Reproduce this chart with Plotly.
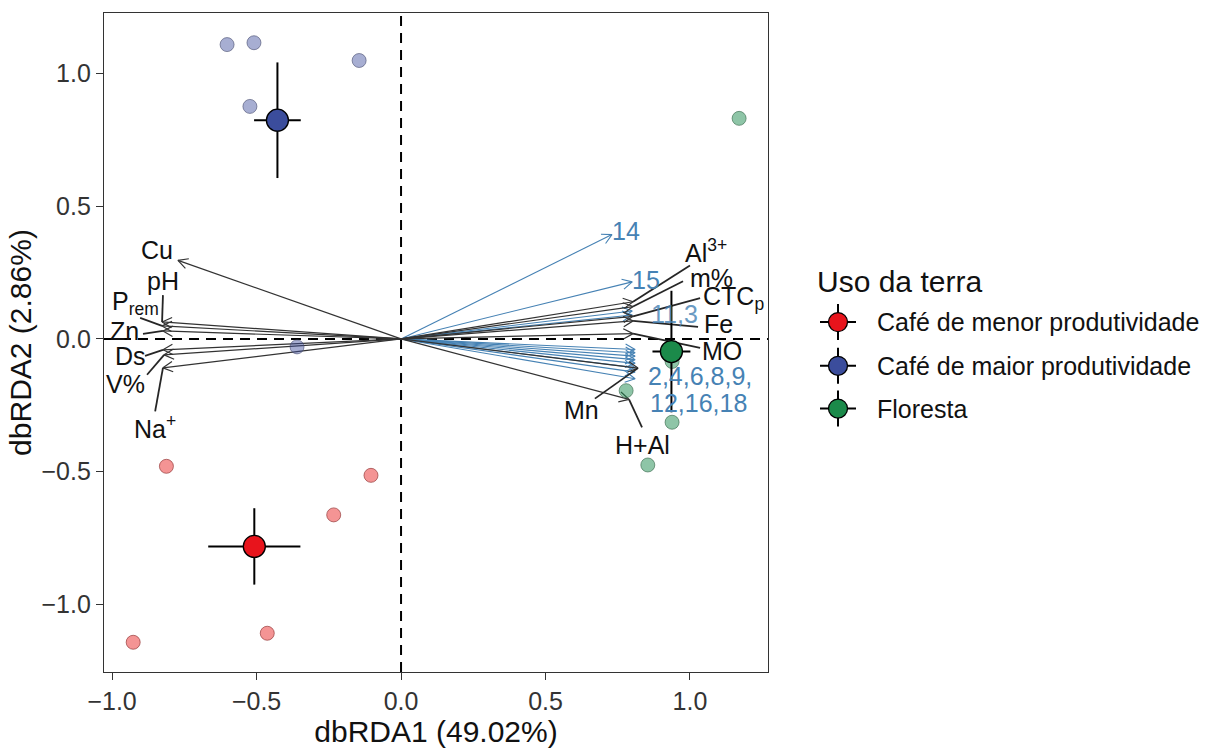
import math
import numpy as np
import plotly.graph_objects as go

# ---------------- data ----------------
groups = ["Café de menor produtividade", "Café de maior produtividade", "Floresta"]

menor_x = [-0.812, -0.104, -0.233, -0.463, -0.927]
menor_y = [-0.480, -0.514, -0.663, -1.109, -1.143]
maior_x = [-0.602, -0.509, -0.523, -0.145, -0.360]
maior_y = [1.109, 1.116, 0.876, 1.049, -0.030]
floresta_x = [1.170, 0.779, 0.938, 0.938, 0.854]
floresta_y = [0.831, -0.195, -0.085, -0.314, -0.475]

# environmental vectors (black)
env_names = ["Cu", "pH", "P<sub>rem</sub>", "Zn", "Ds", "V%", "Na<sup>+</sup>",
             "Al<sup>3+</sup>", "m%", "CTC<sub>p</sub>", "Fe", "MO", "Mn", "H+Al"]
env_x = [-0.772, -0.827, -0.827, -0.824, -0.824, -0.820, -0.824,
         0.803, 0.803, 0.803, 0.803, 0.803, 0.820, 0.789]
env_y = [0.296, 0.064, 0.049, 0.030, -0.041, -0.060, -0.109,
         0.140, 0.122, 0.085, 0.068, 0.020, -0.110, -0.228]

# numbered vectors (blue)
num_names = ["14", "15", "11", "3", "2", "4", "6", "8", "9", "12", "16", "18"]
num_x = [0.730, 0.800, 0.800, 0.800, 0.810, 0.810, 0.810, 0.810, 0.810, 0.810, 0.810, 0.810]
num_y = [0.393, 0.215, 0.105, 0.090, -0.040, -0.052, -0.065, -0.078, -0.092, -0.108, -0.125, -0.150]

# ---------------- layout constants ----------------
W, H = 1219, 752
ML, MR, MT, MB = 104, 451, 13, 76
XR = [-1.028, 1.27]
YR = [-1.255, 1.228]
PW, PH = W - ML - MR, H - MT - MB
SX = PW / (XR[1] - XR[0])
SY = PH / (YR[1] - YR[0])

FONT = "Liberation Sans, Arial, sans-serif"
BLACK_LINE = "#333333"
BLUE = "#4682B4"

# label placements (data units) and leader start points
env_label_pos = [(-0.844, 0.335), (-0.824, 0.217), (-0.920, 0.135), (-0.958, 0.030),
                 (-0.938, -0.064), (-0.955, -0.169), (-0.851, -0.333),
                 (1.055, 0.333), (1.076, 0.228), (1.149, 0.154), (1.097, 0.056),
                 (1.111, -0.045), (0.626, -0.266), (0.837, -0.401)]
env_leader = [None, (-0.824, 0.165), (-0.903, 0.079), (-0.893, 0.019),
              (-0.886, -0.064), (-0.879, -0.135), (-0.851, -0.273),
              (1.000, 0.277), (0.976, 0.217), (1.035, 0.154), (1.028, 0.045),
              (1.035, -0.034), (0.671, -0.225), (0.834, -0.333)]
num_labels = [("14", 0.779, 0.408, 1.0), ("15", 0.848, 0.221, 1.0), ("11,3", 0.948, 0.094, 0.8),
              ("2,4,6,8,9,", 1.035, -0.139, 1.0), ("12,16,18", 1.028, -0.240, 1.0)]

fig = go.Figure()


def arrows(xs, ys, color, width):
    lx, ly, hx, hy = [], [], [], []
    L, phi = 11.0, math.radians(28)
    for x, y in zip(xs, ys):
        lx += [0, x, None]
        ly += [0, y, None]
        px, py = x * SX, y * SY
        th = math.atan2(py, px)
        w1 = (px - L * math.cos(th + phi), py - L * math.sin(th + phi))
        w2 = (px - L * math.cos(th - phi), py - L * math.sin(th - phi))
        hx += [w1[0] / SX, x, w2[0] / SX, None]
        hy += [w1[1] / SY, y, w2[1] / SY, None]
    fig.add_trace(go.Scatter(x=lx, y=ly, mode="lines", line=dict(color=color, width=width),
                             hoverinfo="skip", showlegend=False))
    fig.add_trace(go.Scatter(x=hx, y=hy, mode="lines", line=dict(color=color, width=width),
                             hoverinfo="skip", showlegend=False))


arrows(num_x, num_y, BLUE, 1.1)
arrows(env_x, env_y, BLACK_LINE, 1.2)

# leader segments
sx_, sy_ = [], []
for (lp, tx, ty) in zip(env_leader, env_x, env_y):
    if lp is None:
        continue
    sx_ += [lp[0], tx, None]
    sy_ += [lp[1], ty, None]
fig.add_trace(go.Scatter(x=sx_, y=sy_, mode="lines", line=dict(color="#262626", width=1.8),
                         hoverinfo="skip", showlegend=False))

# sample points
pt_fill = ["rgba(235,60,60,0.55)", "rgba(60,75,155,0.45)", "rgba(30,140,80,0.5)"]
pt_line = ["rgba(150,60,60,0.7)", "rgba(70,75,110,0.6)", "rgba(50,100,70,0.6)"]
cen_fill = ["#e8141c", "#3b4d9c", "#1b8a4a"]
sets = [(menor_x, menor_y), (maior_x, maior_y), (floresta_x, floresta_y)]
for i, (xs, ys) in enumerate(sets):
    fig.add_trace(go.Scatter(x=xs, y=ys, mode="markers",
                             marker=dict(size=14, color=pt_fill[i], line=dict(color=pt_line[i], width=1)),
                             hoverinfo="skip", showlegend=False))

for i, (xs, ys) in enumerate(sets):
    xa, ya = np.array(xs), np.array(ys)
    mx, my = xa.mean(), ya.mean()
    sex = xa.std(ddof=1) / math.sqrt(len(xa))
    sey = ya.std(ddof=1) / math.sqrt(len(ya))
    fig.add_trace(go.Scatter(x=[mx], y=[my], mode="markers",
                             error_x=dict(type="data", array=[sex], color="black", thickness=2, width=0),
                             error_y=dict(type="data", array=[sey], color="black", thickness=2, width=0),
                             marker=dict(size=22, color=cen_fill[i], line=dict(color="black", width=1.3)),
                             name=groups[i], showlegend=False))

annotations = []
for name, (lx, ly) in zip(env_names, env_label_pos):
    annotations.append(dict(x=lx, y=ly, xref="x", yref="y", text=name, showarrow=False,
                            font=dict(family=FONT, size=25, color="#111111")))
for txt, lx, ly, op in num_labels:
    annotations.append(dict(x=lx, y=ly, xref="x", yref="y", text=txt, showarrow=False, opacity=op,
                            font=dict(family=FONT, size=25, color=BLUE)))

# manual legend
def px2paper(px, py):
    return (px - ML) / PW, (H - MB - py) / PH

tx, ty = px2paper(815, 283)
annotations.append(dict(x=tx, y=ty, xref="paper", yref="paper", text="Uso da terra", showarrow=False,
                        xanchor="left", yanchor="middle", font=dict(family=FONT, size=30, color="#111111")))
shapes = []
leg_y = [324, 368, 411]
for i, g in enumerate(groups):
    cx, cy = px2paper(838, leg_y[i])
    shapes.append(dict(type="line", xref="paper", yref="paper", xsizemode="pixel", ysizemode="pixel",
                       xanchor=cx, yanchor=cy, x0=-18, x1=18, y0=0, y1=0,
                       line=dict(color="black", width=2)))
    shapes.append(dict(type="line", xref="paper", yref="paper", xsizemode="pixel", ysizemode="pixel",
                       xanchor=cx, yanchor=cy, x0=0, x1=0, y0=-18, y1=18,
                       line=dict(color="black", width=2)))
    shapes.append(dict(type="circle", xref="paper", yref="paper", xsizemode="pixel", ysizemode="pixel",
                       xanchor=cx, yanchor=cy, x0=-9.5, x1=9.5, y0=-9.5, y1=9.5,
                       fillcolor=cen_fill[i], line=dict(color="black", width=1.3)))
    lx, ly = px2paper(875, leg_y[i])
    annotations.append(dict(x=lx, y=ly, xref="paper", yref="paper", text=g, showarrow=False,
                            xanchor="left", yanchor="middle", font=dict(family=FONT, size=25, color="#111111")))

# dashed reference lines
shapes.append(dict(type="line", xref="x", yref="y domain", x0=0, x1=0, y0=0, y1=1, layer="below",
                   line=dict(color="black", width=2, dash="10px,7px")))
shapes.append(dict(type="line", xref="x domain", yref="y", x0=0, x1=1, y0=0, y1=0, layer="below",
                   line=dict(color="black", width=2, dash="10px,7px")))

axis_common = dict(showgrid=False, zeroline=False, showline=True, mirror=True, linecolor="#333333",
                   linewidth=1.3, ticks="outside", ticklen=7, tickwidth=1.3, tickcolor="#333333",
                   tickfont=dict(family=FONT, size=25, color="#333333"))

fig.update_layout(
    width=W, height=H, autosize=False,
    margin=dict(l=ML, r=MR, t=MT, b=MB, pad=0),
    paper_bgcolor="white", plot_bgcolor="white",
    xaxis=dict(range=XR, tickvals=[-1, -0.5, 0, 0.5, 1], tickformat=".1f",
               title=dict(text="dbRDA1 (49.02%)", font=dict(family=FONT, size=30, color="#111111"), standoff=4),
               **axis_common),
    yaxis=dict(range=YR, tickvals=[-1, -0.5, 0, 0.5, 1], tickformat=".1f",
               title=dict(text="dbRDA2 (2.86%)", font=dict(family=FONT, size=30, color="#111111"), standoff=0),
               **axis_common),
    annotations=annotations, shapes=shapes, showlegend=False,
)

fig.write_html("out.html")
